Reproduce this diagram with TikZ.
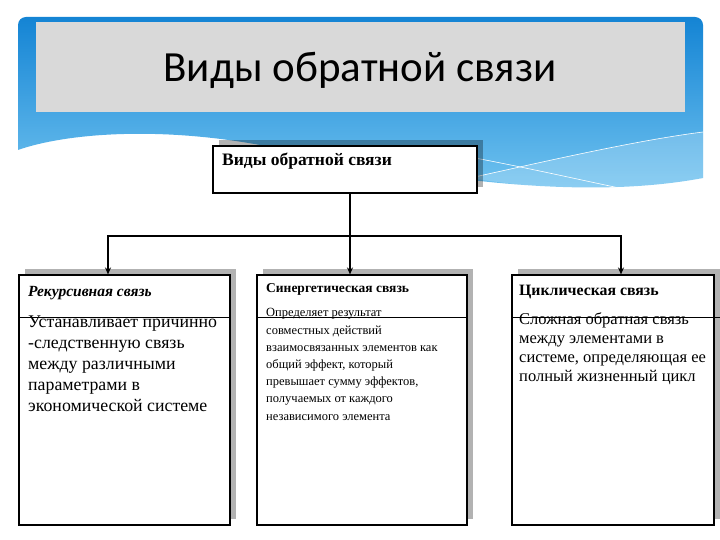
\documentclass[tikz,border=0pt]{standalone}
\usepackage{fontspec}
\setmainfont{Liberation Serif}
\newfontfamily\titlefont{Carlito}
\usepackage{xcolor}
\usepackage{tikz}
\usetikzlibrary{arrows.meta, positioning, shadows}

\definecolor{bandtop}{RGB}{20,132,212}
\definecolor{bandlow}{RGB}{120,200,242}

\begin{document}
\begin{tikzpicture}[
    x=1pt, y=-1pt,
    box/.style={rectangle, draw, line width=1.1pt, fill=white, inner sep=0pt,
                drop shadow={shadow xshift=6pt, shadow yshift=6pt, fill=black, opacity=.3}},
    head/.style={anchor=base west, inner sep=0pt, font=\bfseries},
    body/.style={anchor=base west, inner sep=0pt, align=left},
    link/.style={line width=1.8pt},
    arrow/.style={-{Stealth[length=7pt, width=6pt]}, line width=1.8pt},
]
\useasboundingbox (0,0) rectangle (720,540);

% blue band and title
\path[top color=bandtop, bottom color=bandlow]
    (18,150) [rounded corners=8pt] -- (18,17) -- (703,17) [sharp corners] -- (703,178)
    .. controls (560,205) and (380,168) .. (260,145)
    .. controls (150,125) and (60,135) .. (18,150) -- cycle;
\fill[white, opacity=.2] (470,178) .. controls (560,158) and (640,140) .. (703,132)
    -- (703,178) .. controls (640,195) and (560,192) .. (470,178) -- cycle;
\draw[white, line width=.6pt] (430,150) .. controls (520,165) and (600,185) .. (650,194);
\draw[white, line width=.6pt] (470,178) .. controls (560,158) and (640,140) .. (703,132);

\node[fill=gray!30, minimum width=649pt, minimum height=90pt, inner sep=0pt] (titlebar) at (360,67) {};
\node[anchor=base, inner sep=0pt, font=\titlefont\fontsize{43}{48}\selectfont] (title) at (360,82) {Виды обратной связи};

% boxes
\node[box, minimum width=264pt, minimum height=47pt] (root) at (345,169.5) {};
\node[head, font=\bfseries\fontsize{17.5}{20}\selectfont] (root-text) at (222,166) {Виды обратной связи};

\node[box, minimum width=211pt, minimum height=250pt] (rec) at (124.5,400) {};
\node[box, minimum width=210pt, minimum height=250pt] (syn) at (362,400) {};
\node[box, minimum width=202pt, minimum height=250pt] (cyc) at (613,400) {};

\draw[line width=1.1pt] ([yshift=-43pt]rec.north west) -- ([yshift=-43pt]rec.north east);
\draw[line width=1.1pt] ([yshift=-43pt]syn.north west) -- ([yshift=-43pt]syn.north east);
\draw[line width=1.1pt] ([yshift=-43pt]cyc.north west) -- ([xshift=6pt,yshift=-43pt]cyc.north east);

\node[head, font=\bfseries\itshape\fontsize{15.5}{18}\selectfont] (rec-head) at (28,296) {Рекурсивная связь};
\node[head, font=\bfseries\fontsize{13.5}{16}\selectfont] (syn-head) at (266,292) {Синергетическая связь};
\node[head, font=\bfseries\fontsize{15.8}{18}\selectfont] (cyc-head) at (519,295) {Циклическая связь};

% body texts sit on the baseline of their last line
\node[body, font=\fontsize{17.8}{21}\selectfont] (rec-text) at (28,411)
    {Устанавливает причинно\\-следственную связь\\между различными\\параметрами в\\экономической системе};
\node[body, font=\fontsize{12.5}{17.2}\selectfont] (syn-text) at (266,420)
    {Определяет результат\\совместных действий\\взаимосвязанных элементов как\\общий эффект, который\\превышает сумму эффектов,\\получаемых от каждого\\независимого элемента};
\node[body, font=\fontsize{16.5}{19}\selectfont] (cyc-text) at (519,381)
    {Сложная обратная связь\\между элементами в\\системе, определяющая ее\\полный жизненный цикл};

% connectors
\coordinate (fork) at (350,236);
\draw[link] ([xshift=5pt]root.south) -- (fork);
\draw[arrow] (fork) -| ([xshift=-16.5pt]rec.north);
\draw[arrow] (fork) -- ([xshift=-12pt]syn.north);
\draw[arrow] (fork) -| ([xshift=8pt]cyc.north);
\end{tikzpicture}
\end{document}
